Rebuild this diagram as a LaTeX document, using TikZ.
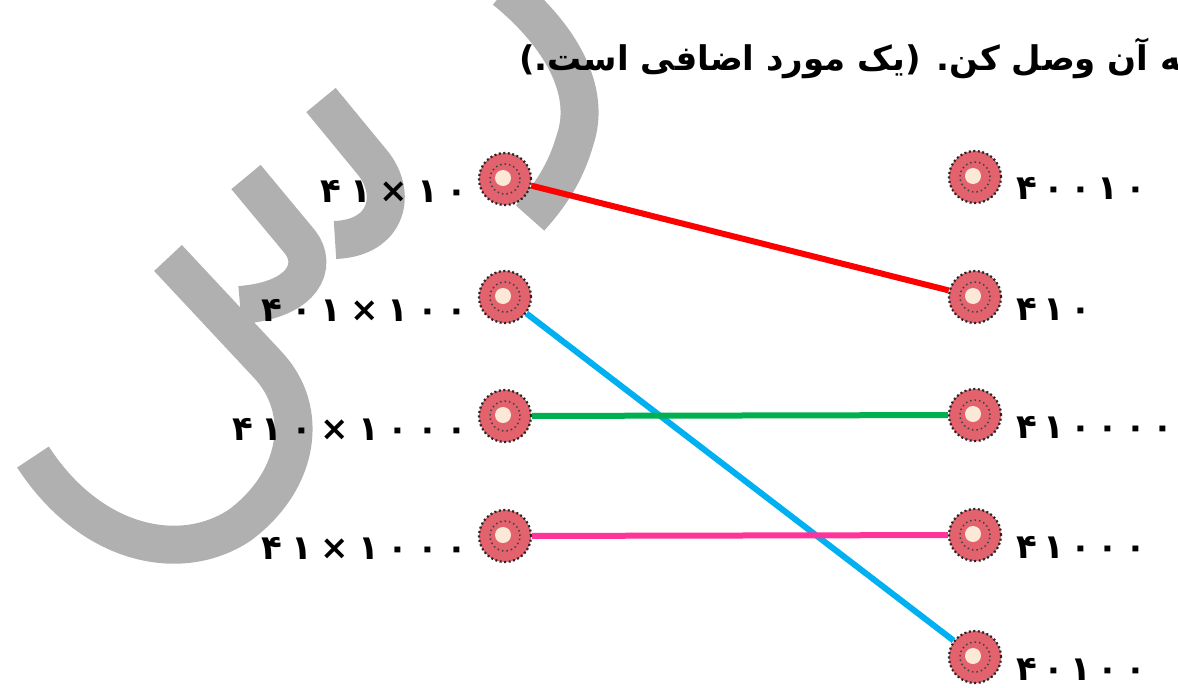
\documentclass[tikz,border=0pt]{standalone}
\usepackage{fontspec}
\usepackage{tikz}
\usetikzlibrary{positioning}
\TeXXeTstate=1
\newfontfamily\farsi[Script=Arabic]{DejaVu Sans}
\newfontfamily\farsidigits[LetterSpace=26]{DejaVu Sans}
\newfontfamily\farsianswers[LetterSpace=19]{DejaVu Sans}
\definecolor{beadred}{RGB}{226,98,110}
\definecolor{beadlight}{RGB}{252,232,215}
\definecolor{markgray}{RGB}{176,176,176}
\definecolor{linered}{RGB}{255,0,0}
\definecolor{lineblue}{RGB}{0,176,240}
\definecolor{linegreen}{RGB}{0,176,80}
\definecolor{linepink}{RGB}{255,51,153}

\begin{document}
\begin{tikzpicture}[x=1pt, y=-1pt,
    bead/.style = {
      circle, minimum size=52pt, inner sep=0pt, fill=beadred,
      draw=black!85, line width=2.2pt, dash pattern=on 2pt off 2.5pt,
      path picture={
        \draw[black!75, line width=1.5pt, dash pattern=on 1.5pt off 3pt]
          (path picture bounding box.center) circle (15pt);
        \fill[beadlight] ([xshift=-2pt, yshift=1pt]path picture bounding box.center)
          circle (8pt);
      }
    },
    numleft/.style = {font=\farsidigits\bfseries\fontsize{34pt}{34pt}\selectfont,
      inner sep=0pt, anchor=east},
    numright/.style = {font=\farsianswers\bfseries\fontsize{34pt}{34pt}\selectfont,
      inner sep=0pt, anchor=west},
    link/.style = {line width=6pt},
    watermark/.style = {draw=markgray, line width=38pt}
  ]
  \useasboundingbox (0,0) rectangle (1178,688);
  \clip (0,0) rectangle (1178,688);

  % gray watermark
  \draw[watermark] (505,-10) .. controls (560,35) and (592,90) .. (575,140)
    .. controls (565,175) and (548,198) .. (530,218);
  \draw[watermark] (321,100) -- (372,162)
    .. controls (398,193) and (388,238) .. (335,240);
  \draw[watermark] (246,177) -- (300,242)
    .. controls (318,265) and (305,300) .. (240,305);
  \draw[watermark] (168,258) -- (268,365)
    .. controls (310,410) and (300,480) .. (240,525)
    .. controls (180,565) and (90,545) .. (33,457);

  % title
  \node[font=\farsi\bfseries\fontsize{34pt}{34pt}\selectfont, anchor=base east,
    inner sep=0pt] (title) at (1194,70)
    {\beginR به آن وصل کن. (یک مورد اضافی است.)\endR};

  % beads
  \node[bead] (l1) at (505,179) {};
  \node[bead] (l2) at (505,297) {};
  \node[bead] (l3) at (505,416) {};
  \node[bead] (l4) at (505,536) {};
  \node[bead] (r1) at (975,177) {};
  \node[bead] (r2) at (975,297) {};
  \node[bead] (r3) at (975,415) {};
  \node[bead] (r4) at (975,535) {};
  \node[bead] (r5) at (975,657) {};

  % products
  \node[numleft, left=10pt of l1, yshift=-12pt] (p1) {۴۱×۱۰};
  \node[numleft, left=10pt of l2, yshift=-13pt] (p2) {۴۰۱×۱۰۰};
  \node[numleft, left=10pt of l3, yshift=-13pt] (p3) {۴۱۰×۱۰۰۰};
  \node[numleft, left=10pt of l4, yshift=-12pt] (p4) {۴۱×۱۰۰۰};

  % answers
  \node[numright, right=14pt of r1, yshift=-11pt] (a1) {۴۰۰۱۰};
  \node[numright, right=14pt of r2, yshift=-12pt] (a2) {۴۱۰};
  \node[numright, right=14pt of r3, yshift=-12pt] (a3) {۴۱۰۰۰۰};
  \node[numright, right=14pt of r4, yshift=-12pt] (a4) {۴۱۰۰۰};
  \node[numright, right=14pt of r5, yshift=-12pt] (a5) {۴۰۱۰۰};

  % matches
  \draw[link, linered] (l1) -- (r2);
  \draw[link, lineblue] (l2) -- (r5);
  \draw[link, linegreen] (l3) -- (r3);
  \draw[link, linepink] (l4) -- (r4);
\end{tikzpicture}
\end{document}
